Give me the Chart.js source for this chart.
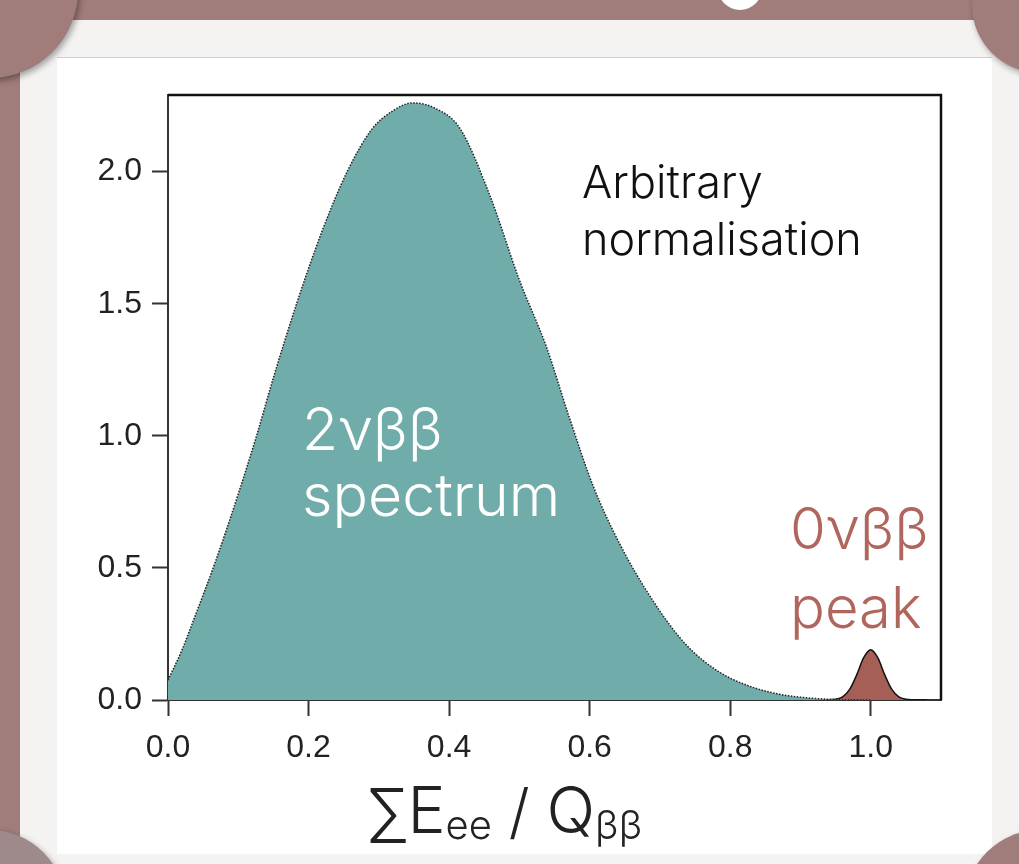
<!DOCTYPE html>
<html>
<head>
<meta charset="utf-8">
<script src="https://cdn.jsdelivr.net/npm/chart.js@4.4.1/dist/chart.umd.min.js"></script>
<style>
  html, body { margin: 0; padding: 0; }
  body { width: 1019px; height: 864px; overflow: hidden; position: relative; background: #a07c7b; }
  .card { position: absolute; left: 20px; top: 20px; width: 1010px; height: 860px; background: #f4f3f2; }
  .sheet { position: absolute; left: 57px; top: 57px; width: 935px; height: 796px; background: #fff;
           border-top: 1px solid #dccbcb; }
  .dot { position: absolute; border-radius: 50%; background: #a07c7b; box-shadow: 2px 3px 6px rgba(0,0,0,0.35); }
  canvas#spectrum { position: absolute; left: 0; top: 0; }
</style>
</head>
<body>
<div class="card"></div>
<div class="sheet"></div>
<div class="dot" style="left:-98px; top:-98px; width:176px; height:176px;"></div>
<div class="dot" style="left:972px; top:-63px; width:136px; height:136px;"></div>
<div class="dot" style="left:-85px; top:830px; width:150px; height:150px; background:#9e898b;"></div>
<div class="dot" style="left:965px; top:830px; width:150px; height:150px;"></div>
<div class="dot" style="left:718px; top:-34px; width:44px; height:44px; background:#fff; box-shadow:none;"></div>
<canvas id="spectrum" width="1019" height="864"></canvas>
<script>
"use strict";

// 2vbb continuum
var twoNuX = [0, 0.02, 0.036, 0.067, 0.1, 0.126, 0.15, 0.183, 0.22, 0.255, 0.29, 0.32, 0.348, 0.38, 0.415,
              0.458, 0.5, 0.538, 0.571, 0.605, 0.643, 0.69, 0.737, 0.785, 0.83, 0.87, 0.91, 0.95, 1.0];
var twoNuY = [0.075, 0.19, 0.30, 0.52, 0.78, 1.0, 1.22, 1.5, 1.78, 2.0, 2.16, 2.23, 2.26, 2.24, 2.165,
              1.91, 1.59, 1.34, 1.07, 0.81, 0.59, 0.376, 0.21, 0.105, 0.05, 0.022, 0.008, 0.002, 0];

// 0vbb peak at the endpoint
var zeroNuX = [0.92, 0.94, 0.95, 0.96, 0.97, 0.98, 0.99, 1.0, 1.01, 1.02, 1.03, 1.04, 1.05, 1.06, 1.08];
var zeroNuY = [0, 0.001, 0.003, 0.012, 0.04, 0.095, 0.16, 0.19, 0.16, 0.095, 0.04, 0.012, 0.003, 0.001, 0];

var xTicks = [0, 0.2, 0.4, 0.6, 0.8, 1.0];
var yTicks = [0, 0.5, 1.0, 1.5, 2.0];

var textFont = 'Inter, "Liberation Sans", sans-serif';

function toPoints(xs, ys) {
    var pts = [];
    for (var i = 0; i < xs.length; i++) {
        pts.push({ x: xs[i], y: ys[i] });
    }
    return pts;
}

// frame, annotations and the axis title with subscripts
var decorations = {
    id: 'decorations',
    afterDatasetsDraw: function (chart) {
        var ctx = chart.ctx;
        var a = chart.chartArea;
        ctx.save();
        ctx.strokeStyle = '#111';
        ctx.lineWidth = 2.5;
        ctx.beginPath();
        ctx.moveTo(a.left, a.top);
        ctx.lineTo(a.right, a.top);
        ctx.lineTo(a.right, a.bottom);
        ctx.stroke();

        ctx.textBaseline = 'alphabetic';
        ctx.textAlign = 'left';
        ctx.fillStyle = '#111';
        ctx.font = '300 45px ' + textFont;
        ctx.fillText('Arbitrary', 582, 198);
        ctx.fillText('normalisation', 582, 255);

        ctx.fillStyle = '#ffffff';
        ctx.font = '300 59px ' + textFont;
        ctx.fillText('2νββ', 302, 450);
        ctx.fillText('spectrum', 302, 516);

        ctx.fillStyle = '#b0665d';
        ctx.font = '300 58px ' + textFont;
        ctx.fillText('0νββ', 790, 549);
        ctx.fillText('peak', 790, 628);
        ctx.restore();
    },
    afterDraw: function (chart) {
        var ctx = chart.ctx;
        var parts = [
            { t: '∑', size: 64, dy: 2 },
            { t: 'E', size: 64, dy: 0 },
            { t: 'ee', size: 40, dy: 6 },
            { t: ' / ', size: 60, dy: 0 },
            { t: 'Q', size: 64, dy: 0 },
            { t: 'ββ', size: 40, dy: 6 }
        ];
        ctx.save();
        ctx.fillStyle = '#222';
        ctx.textAlign = 'left';
        ctx.textBaseline = 'alphabetic';
        var total = 0;
        parts.forEach(function (p) {
            ctx.font = '300 ' + p.size + 'px ' + textFont;
            p.w = ctx.measureText(p.t).width;
            total += p.w;
        });
        var x = 506 - total / 2;
        parts.forEach(function (p) {
            ctx.font = '300 ' + p.size + 'px ' + textFont;
            ctx.fillText(p.t, x, 833 + p.dy);
            x += p.w;
        });
        ctx.restore();
    }
};

var axisLine = { display: true, color: '#333', width: 2 };
var gridOpts = { display: true, drawOnChartArea: false, drawTicks: true, tickLength: 16, tickColor: '#333', tickWidth: 2 };
var tickFont = { family: '"Liberation Sans", Arial, sans-serif', size: 32 };

var chart = new Chart(document.getElementById('spectrum'), {
    type: 'line',
    data: {
        datasets: [
            {
                label: '2vbb',
                data: toPoints(twoNuX, twoNuY),
                fill: 'origin',
                backgroundColor: '#70aca9',
                borderColor: '#222',
                borderWidth: 1.5,
                borderDash: [1.5, 1.5],
                cubicInterpolationMode: 'monotone',
                pointRadius: 0
            },
            {
                label: '0vbb',
                data: toPoints(zeroNuX, zeroNuY),
                fill: 'origin',
                backgroundColor: '#a65f56',
                borderColor: '#111',
                borderWidth: 1.5,
                cubicInterpolationMode: 'monotone',
                pointRadius: 0
            }
        ]
    },
    options: {
        responsive: false,
        animation: false,
        layout: { padding: { left: 0, top: 95, right: 78, bottom: 0 } },
        plugins: { legend: { display: false }, tooltip: { enabled: false } },
        scales: {
            x: {
                type: 'linear',
                min: 0,
                max: 1.1,
                border: axisLine,
                grid: gridOpts,
                afterBuildTicks: function (scale) {
                    scale.ticks = xTicks.map(function (v) { return { value: v }; });
                },
                afterFit: function (scale) { scale.height = 164; },
                ticks: {
                    color: '#222',
                    font: tickFont,
                    padding: 13,
                    maxRotation: 0,
                    callback: function (v) { return Number(v).toFixed(1); }
                }
            },
            y: {
                min: 0,
                max: 2.29,
                border: axisLine,
                grid: gridOpts,
                afterBuildTicks: function (scale) {
                    scale.ticks = yTicks.map(function (v) { return { value: v }; });
                },
                afterFit: function (scale) { scale.width = 168; },
                ticks: {
                    color: '#222',
                    font: tickFont,
                    padding: 10,
                    callback: function (v) { return Number(v).toFixed(1); }
                }
            }
        }
    },
    plugins: [decorations]
});
</script>
</body>
</html>
